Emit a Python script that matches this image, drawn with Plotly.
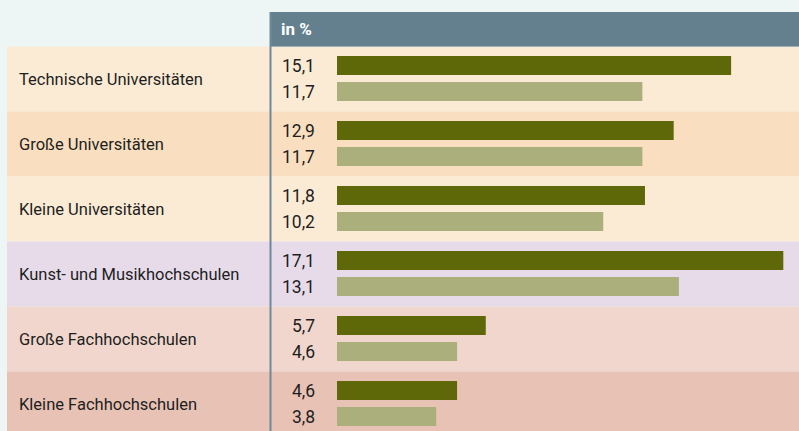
import plotly.graph_objects as go

# Hochschultypen und Anteile (in %)
categories = [
    "Technische Universitäten",
    "Große Universitäten",
    "Kleine Universitäten",
    "Kunst- und Musikhochschulen",
    "Große Fachhochschulen",
    "Kleine Fachhochschulen",
]
values_a = [15.1, 12.9, 11.8, 17.1, 5.7, 4.6]
values_b = [11.7, 11.7, 10.2, 13.1, 4.6, 3.8]
header_label = "in %"

row_colors = ["#FBEBD4", "#F9DFBF", "#FBEBD4", "#E7DBEA", "#F0D6CC", "#E8C2B5"]
color_a = "#5F6808"
color_b = "#ABAF7C"
header_color = "#64808E"
font_family = "Roboto, sans-serif"
text_color = "#1E1E1E"

W, H = 799, 431
ROW_H = 65.0          # pixel height of one row
ROW0_C = 79.0         # pixel centre of the first row
PX_PER_UNIT = 26.1    # bar scale
X_ZERO = 337.0        # pixel where the bars start


def py(p):
    """pixel row -> y data value"""
    return (p - ROW0_C) / ROW_H


x_range = [-X_ZERO / PX_PER_UNIT, (W - X_ZERO) / PX_PER_UNIT]
y_range = [py(H), py(0)]

positions = list(range(len(categories)))
bar_w = 19 / ROW_H
off_a = -23 / ROW_H
off_b = 3 / ROW_H

fig = go.Figure()
fig.add_trace(go.Bar(
    y=positions, x=values_a, orientation="h",
    marker=dict(color=color_a, line=dict(width=0)),
    width=bar_w, offset=off_a, hoverinfo="skip", showlegend=False,
))
fig.add_trace(go.Bar(
    y=positions, x=values_b, orientation="h",
    marker=dict(color=color_b, line=dict(width=0)),
    width=bar_w, offset=off_b, hoverinfo="skip", showlegend=False,
))

shapes = []
# row backgrounds
for i, c in enumerate(row_colors):
    shapes.append(dict(
        type="rect", xref="paper", yref="y", layer="below",
        x0=7 / W, x1=1, y0=i - 0.5, y1=i + 0.5,
        fillcolor=c, line=dict(width=0),
    ))
# header band
shapes.append(dict(
    type="rect", xref="paper", yref="y", layer="below",
    x0=270 / W, x1=1, y0=py(12), y1=py(46),
    fillcolor=header_color, line=dict(width=0),
))
shapes.append(dict(
    type="line", xref="paper", yref="y", layer="below",
    x0=270 / W, x1=1, y0=py(46.5), y1=py(46.5),
    line=dict(color="#9FB2BA", width=1),
))
# vertical divider
shapes.append(dict(
    type="line", xref="paper", yref="y", layer="above",
    x0=270.5 / W, x1=270.5 / W, y0=py(12), y1=py(H),
    line=dict(color="#6E8A98", width=2),
))

annotations = []
annotations.append(dict(
    x=279 / W, xref="paper", y=py(29), yref="y",
    text="<b>" + header_label + "</b>", showarrow=False,
    xanchor="left", yanchor="middle",
    font=dict(family=font_family, size=17, color="white"),
))
for i, cat in enumerate(categories):
    annotations.append(dict(
        x=17 / W, xref="paper", y=i, yref="y", text=cat,
        showarrow=False, xanchor="left", yanchor="middle",
        font=dict(family=font_family, size=16.5, color=text_color),
    ))
    for v, off in ((values_a[i], off_a), (values_b[i], off_b)):
        annotations.append(dict(
            x=317 / W, xref="paper", y=i + off + bar_w / 2, yref="y",
            text=f"{v:.1f}".replace(".", ","), showarrow=False,
            xanchor="right", yanchor="middle",
            font=dict(family=font_family, size=17.5, color=text_color),
        ))

fig.update_layout(
    width=W, height=H,
    margin=dict(l=0, r=0, t=0, b=0),
    paper_bgcolor="#EDF6F5", plot_bgcolor="rgba(0,0,0,0)",
    barmode="overlay",
    xaxis=dict(range=x_range, visible=False, fixedrange=True),
    yaxis=dict(range=y_range, visible=False, fixedrange=True),
    shapes=shapes, annotations=annotations,
)

fig.write_html("out.html")
